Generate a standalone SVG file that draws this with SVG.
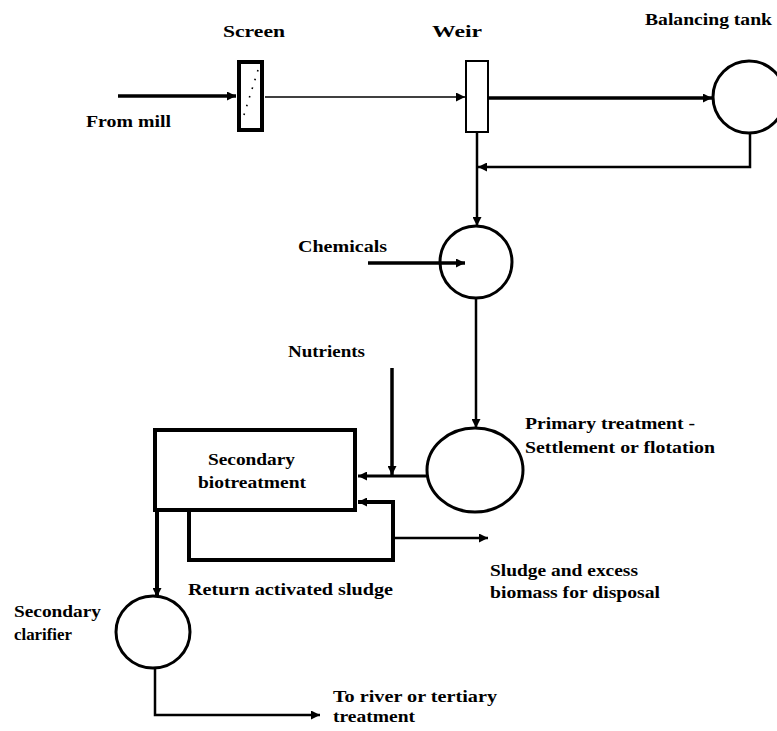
<svg xmlns="http://www.w3.org/2000/svg" width="777" height="731" viewBox="0 0 777 731">
<style>
.lbl{font-family:"Liberation Serif","Times New Roman",serif;font-weight:bold;font-size:17px;fill:#000}
.shape{fill:#fff;stroke:#000}
.ln{fill:none;stroke:#000;stroke-linejoin:miter}
</style>
<defs>
<marker id="ah" viewBox="0 0 10 10" refX="10" refY="5" markerWidth="10" markerHeight="9" markerUnits="userSpaceOnUse" orient="auto">
<path d="M0,0 L10,5 L0,10 Z" fill="#000"/>
</marker>
</defs>
<rect width="777" height="731" fill="#fff"/>

<g id="connectors">
<line class="ln" x1="118" y1="96" x2="236" y2="96" stroke-width="3.5" marker-end="url(#ah)"/>
<line class="ln" x1="265" y1="97" x2="465" y2="97" stroke-width="1.5" marker-end="url(#ah)"/>
<line class="ln" x1="489" y1="98" x2="712" y2="98" stroke-width="3.5" marker-end="url(#ah)"/>
<polyline class="ln" points="750,133 750,167 478,167" stroke-width="2.5" marker-end="url(#ah)"/>
<line class="ln" x1="477" y1="133" x2="477" y2="226" stroke-width="2.5" marker-end="url(#ah)"/>
<line class="ln" x1="368" y1="263" x2="465" y2="263" stroke-width="3.5" marker-end="url(#ah)"/>
<line class="ln" x1="476" y1="298" x2="476" y2="428" stroke-width="2.5" marker-end="url(#ah)"/>
<line class="ln" x1="392" y1="368" x2="392" y2="475" stroke-width="3.5" marker-end="url(#ah)"/>
<line class="ln" x1="427" y1="476" x2="358" y2="476" stroke-width="3" marker-end="url(#ah)"/>
<polyline class="ln" points="189,512 189,560 393,560 393,502 358,502" stroke-width="4" marker-end="url(#ah)"/>
<line class="ln" x1="393" y1="538" x2="488" y2="538" stroke-width="2.5" marker-end="url(#ah)"/>
<line class="ln" x1="157" y1="512" x2="157" y2="597" stroke-width="4" marker-end="url(#ah)"/>
<polyline class="ln" points="155,668 155,715 320,715" stroke-width="2.5" marker-end="url(#ah)"/>
</g>

<g id="from-mill">
<text class="lbl" x="86" y="127" textLength="85" lengthAdjust="spacingAndGlyphs">From mill</text>
</g>

<g id="screen">
<rect class="shape" x="239" y="62" width="23" height="68" stroke-width="4"/>
<line x1="258" y1="70" x2="243" y2="118" stroke="#000" stroke-width="1.6" stroke-dasharray="1.6 7.5"/>
<text class="lbl" x="223" y="37" textLength="62" lengthAdjust="spacingAndGlyphs">Screen</text>
</g>

<g id="weir">
<rect class="shape" x="466" y="61" width="22" height="71" stroke-width="2"/>
<text class="lbl" x="432" y="37" textLength="50" lengthAdjust="spacingAndGlyphs">Weir</text>
</g>

<g id="balancing-tank">
<circle class="shape" cx="749" cy="97" r="36" stroke-width="3"/>
<text class="lbl" x="645" y="25" textLength="127" lengthAdjust="spacingAndGlyphs">Balancing tank</text>
</g>

<g id="chemicals">
<circle class="shape" cx="476" cy="262" r="36" stroke-width="3" fill-opacity="0"/>
<text class="lbl" x="298" y="252" textLength="89" lengthAdjust="spacingAndGlyphs">Chemicals</text>
</g>

<g id="nutrients">
<text class="lbl" x="288" y="357" textLength="77" lengthAdjust="spacingAndGlyphs">Nutrients</text>
</g>

<g id="primary-treatment">
<ellipse class="shape" cx="475" cy="470" rx="48" ry="42" stroke-width="3"/>
<text class="lbl" x="525" y="429" textLength="170" lengthAdjust="spacingAndGlyphs">Primary treatment -</text>
<text class="lbl" x="525" y="453" textLength="190" lengthAdjust="spacingAndGlyphs">Settlement or flotation</text>
</g>

<g id="secondary-biotreatment">
<rect class="shape" x="155" y="430" width="200" height="80" stroke-width="4"/>
<text class="lbl" x="208" y="465" textLength="87" lengthAdjust="spacingAndGlyphs">Secondary</text>
<text class="lbl" x="198" y="488" textLength="108" lengthAdjust="spacingAndGlyphs">biotreatment</text>
</g>

<g id="return-activated-sludge">
<text class="lbl" x="188" y="595" textLength="205" lengthAdjust="spacingAndGlyphs">Return activated sludge</text>
</g>

<g id="sludge-disposal">
<text class="lbl" x="490" y="576" textLength="148" lengthAdjust="spacingAndGlyphs">Sludge and excess</text>
<text class="lbl" x="490" y="598" textLength="170" lengthAdjust="spacingAndGlyphs">biomass for disposal</text>
</g>

<g id="secondary-clarifier">
<ellipse class="shape" cx="153" cy="632" rx="37" ry="36" stroke-width="3"/>
<text class="lbl" x="14" y="617" textLength="87" lengthAdjust="spacingAndGlyphs">Secondary</text>
<text class="lbl" x="14" y="640" textLength="58" lengthAdjust="spacingAndGlyphs">clarifier</text>
</g>

<g id="river-outlet">
<text class="lbl" x="333" y="702" textLength="164" lengthAdjust="spacingAndGlyphs">To river or tertiary</text>
<text class="lbl" x="333" y="722" textLength="82" lengthAdjust="spacingAndGlyphs">treatment</text>
</g>
</svg>
